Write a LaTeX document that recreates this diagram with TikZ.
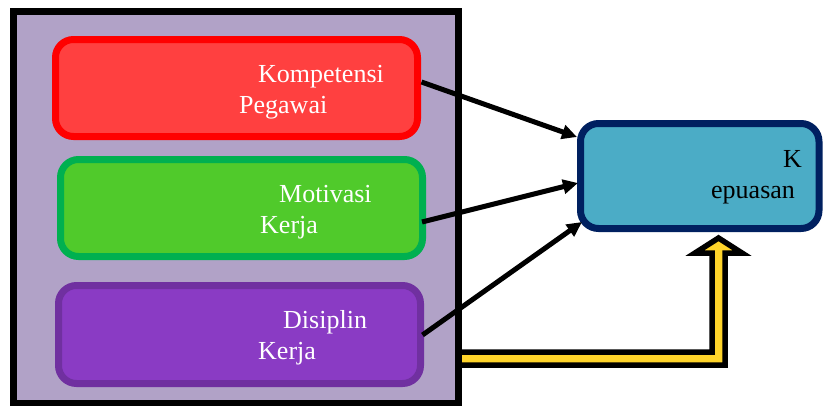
\documentclass[tikz,border=0pt]{standalone}
\usepackage{fontspec}
\setmainfont{Liberation Serif}
\usetikzlibrary{arrows.meta,calc,shadows}
\definecolor{frameFill}{HTML}{B1A2C7}
\definecolor{redFill}{HTML}{FF4040}
\definecolor{redLine}{HTML}{FF0000}
\definecolor{greenFill}{HTML}{50CA2B}
\definecolor{greenLine}{HTML}{00B050}
\definecolor{purpFill}{HTML}{8A3BC4}
\definecolor{purpLine}{HTML}{7030A0}
\definecolor{blueFill}{HTML}{4BACC6}
\definecolor{blueLine}{HTML}{002060}
\definecolor{yellowFill}{HTML}{FFD42A}
\tikzset{
  boxstyle/.style={rounded corners=18pt, line width=7pt, inner sep=0pt, outer sep=0pt, anchor=north west,
    drop shadow={shadow xshift=1.5pt, shadow yshift=-2pt, opacity=0.25}},
  lbl/.style={anchor=base west, inner sep=0pt, font=\fontsize{26}{31}\selectfont},
  conn/.style={line width=5pt, -{Triangle[length=15pt,width=14pt]}}
}
\begin{document}
\begin{tikzpicture}[x=1pt,y=-1pt]
\useasboundingbox (0,0) rectangle (823,405);
% yellow block arrow
\draw[line width=5.5pt, fill=yellowFill, line join=miter, drop shadow={shadow xshift=2pt, shadow yshift=-2pt, opacity=0.3}]
  (440,352) -- (712,352) -- (712,253) -- (695,253) -- (718.5,238) -- (742,253) -- (725,253) -- (725,365) -- (440,365) -- cycle;
% frame
\node[draw, line width=7pt, fill=frameFill, minimum width=445pt, minimum height=392pt, inner sep=0pt, outer sep=0pt, anchor=north west] (frame) at (13.5,11.5) {};
% boxes
\node[boxstyle, draw=redLine, fill=redFill, minimum width=362pt, minimum height=97pt] (red) at (55.5,39.5) {};
\node[boxstyle, draw=greenLine, fill=greenFill, minimum width=362pt, minimum height=97pt] (green) at (60.5,159.5) {};
\node[boxstyle, draw=purpLine, fill=purpFill, minimum width=362pt, minimum height=98pt] (purple) at (58.5,285.5) {};
\node[boxstyle, draw=blueLine, fill=blueFill, minimum width=238.5pt, minimum height=105pt] (blue) at (580.5,123.5) {};
% labels
\node[lbl, text=white] (t1a) at (258,82) {Kompetensi};
\node[lbl, text=white] (t1b) at (239,113) {Pegawai};
\node[lbl, text=white] (t2a) at (279,202) {Motivasi};
\node[lbl, text=white] (t2b) at (260,233) {Kerja};
\node[lbl, text=white] (t3a) at (283,328) {Disiplin};
\node[lbl, text=white] (t3b) at (258,359) {Kerja};
\node[lbl] (t4a) at (783,167) {K};
\node[lbl] (t4b) at (711,198) {epuasan};
% connectors
\draw[conn] ($(red.east)+(4,-6)$) -- ($(blue.west)+(-3.5,-39)$);
\draw[conn] ($(green.east)+(-0.5,14)$) -- ($(blue.west)+(-2.5,7)$);
\draw[conn] ($(purple.east)+(2,0.5)$) -- ($(blue.west)+(1.5,46)$);
\end{tikzpicture}
\end{document}
